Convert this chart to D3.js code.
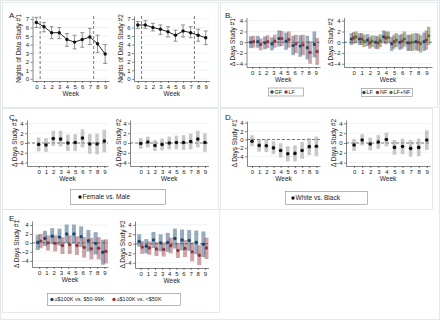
<!DOCTYPE html>
<html>
<head>
<meta charset="utf-8">
<script src="https://cdn.jsdelivr.net/npm/d3@7"></script>
<style>
  body { margin: 0; background: #fff; }
  svg { display: block; }
  text { font-family: 'Liberation Sans', Arial, sans-serif; fill: #222; }
</style>
</head>
<body>
<svg width="440" height="320"></svg>
<script>
// week categories
var weeks = [0, 1, 2, 3, 4, 5, 6, 7, 8, 9]
var yTicksA = [0, 1, 2, 3, 4, 5, 6, 7]
var yTicksD = [-4, -2, 0, 2, 4]

// every entry: [estimate, lower CI, upper CI]
// A. nights of data
var nightsS1 = [[6.6, 6.0, 7.2], [6.1, 5.5, 6.6], [5.4, 4.7, 6.1], [5.4, 4.7, 6.0], [4.6, 3.8, 5.3],
  [4.3, 3.5, 5.1], [4.6, 3.7, 5.4], [4.9, 4.0, 5.9], [4.1, 3.1, 5.1], [2.9, 1.8, 4.0]]
var nightsS2 = [[6.3, 5.9, 6.7], [6.3, 5.9, 6.8], [6.0, 5.6, 6.5], [5.8, 5.2, 6.3], [5.5, 4.9, 6.1],
  [5.1, 4.4, 5.7], [5.6, 4.9, 6.3], [5.4, 4.8, 6.1], [5.1, 4.4, 5.8], [4.8, 4.0, 5.6]]

// B. study #1: GF, LF ; study #2: LF, NF, LF+NF
var gfS1 = [[0.0, -1.1, 1.1], [0.1, -1.0, 1.2], [-0.1, -1.3, 1.1], [-0.3, -1.5, 0.9], [0.7, -0.8, 2.2],
  [0.2, -1.4, 1.8], [-0.6, -2.4, 1.2], [-0.7, -2.7, 1.3], [-1.0, -3.2, 1.2], [-0.4, -2.8, 2.0]]
var lfS1 = [[0.1, -1.0, 1.2], [-0.4, -1.5, 0.7], [0.1, -1.1, 1.3], [0.2, -1.0, 1.4], [0.7, -0.7, 2.1],
  [0.5, -1.0, 2.0], [-0.3, -2.0, 1.4], [-0.5, -2.4, 1.4], [-1.9, -4.0, 0.2], [-1.7, -4.2, 0.8]]
var lfS2 = [[0.6, -0.5, 1.7], [0.6, -0.5, 1.7], [0.4, -0.7, 1.5], [0.0, -1.2, 1.2], [1.0, -0.2, 2.2],
  [-0.3, -1.6, 1.0], [0.0, -1.4, 1.4], [-0.1, -1.6, 1.4], [0.1, -1.5, 1.7], [0.1, -1.6, 1.8]]
var nfS2 = [[0.8, -0.3, 1.9], [0.6, -0.5, 1.7], [-0.1, -1.2, 1.0], [-0.1, -1.3, 1.1], [0.8, -0.4, 2.0],
  [0.1, -1.2, 1.4], [0.2, -1.2, 1.6], [-0.1, -1.6, 1.4], [0.0, -1.6, 1.6], [0.4, -1.4, 2.2]]
var lfnfS2 = [[1.0, -0.1, 2.0], [0.2, -0.9, 1.4], [0.2, -0.9, 1.3], [0.3, -0.9, 1.5], [0.9, -0.2, 2.0],
  [0.4, -0.9, 1.7], [0.6, -0.8, 2.0], [0.0, -1.6, 1.6], [-0.3, -1.9, 1.3], [1.2, -0.5, 2.9]]

// C. female vs male
var sexS1 = [[-0.3, -1.7, 1.1], [-0.4, -1.8, 1.0], [0.9, -0.6, 2.5], [0.8, -0.7, 2.5], [0.0, -1.6, 1.7],
  [0.1, -1.6, 1.8], [1.0, -0.9, 2.8], [-0.2, -2.2, 1.8], [-0.2, -2.3, 1.9], [0.4, -1.9, 2.7]]
var sexS2 = [[-0.1, -1.2, 1.0], [0.2, -0.9, 1.3], [-0.5, -1.6, 0.6], [-0.3, -1.5, 0.9], [0.0, -1.3, 1.3],
  [0.1, -1.3, 1.5], [0.1, -1.4, 1.6], [0.3, -1.3, 1.9], [0.8, -0.9, 2.5], [0.1, -1.8, 2.0]]

// D. white vs black
var raceS1 = [[-0.4, -1.6, 1.0], [-1.4, -2.9, 0.1], [-1.5, -3.0, 0.0], [-2.0, -3.5, -0.4], [-2.6, -4.3, -0.9],
  [-3.4, -5.2, -1.6], [-3.3, -5.2, -1.4], [-2.6, -4.6, -0.6], [-1.7, -3.7, 0.3], [-1.6, -3.9, 0.7]]
var raceS2 = [[-0.4, -1.6, 0.8], [0.6, -0.5, 1.8], [-0.2, -1.5, 1.1], [0.2, -1.2, 1.6], [0.7, -0.7, 2.1],
  [-0.9, -2.4, 0.6], [-0.7, -2.3, 0.9], [-1.1, -2.8, 0.6], [-0.9, -2.7, 0.9], [0.6, -1.4, 2.6]]

// E. income
var midIncS1 = [[0.1, -1.6, 1.8], [1.0, -0.7, 2.7], [1.5, -0.3, 3.3], [1.3, -0.6, 3.2], [2.0, -0.1, 4.1],
  [2.0, -0.1, 4.1], [1.4, -0.9, 3.7], [0.5, -1.9, 2.9], [-0.1, -2.6, 2.4], [-2.1, -4.9, 0.7]]
var lowIncS1 = [[0.4, -1.2, 2.0], [0.0, -1.7, 1.7], [-0.1, -1.9, 1.7], [-0.6, -2.5, 1.3], [-0.4, -2.5, 1.7],
  [-0.6, -2.7, 1.5], [-1.0, -3.3, 1.3], [-1.3, -3.7, 1.1], [-1.2, -3.7, 1.3], [-1.9, -4.6, 0.8]]
var midIncS2 = [[0.5, -0.6, 2.0], [-0.5, -2.0, 1.0], [0.8, -0.9, 2.5], [0.2, -1.6, 2.0], [0.3, -1.7, 2.3],
  [1.1, -1.0, 3.2], [0.8, -1.4, 3.0], [0.7, -1.5, 2.9], [0.3, -2.2, 2.8], [-0.1, -2.8, 2.6]]
var lowIncS2 = [[-0.7, -2.1, 0.6], [-0.9, -2.3, 0.5], [-1.1, -2.6, 0.4], [-1.2, -2.7, 0.3], [-0.4, -2.0, 1.3],
  [-1.4, -3.0, 0.2], [-1.0, -2.8, 0.8], [-1.7, -3.7, 0.3], [-2.4, -4.5, -0.3], [-0.9, -3.2, 1.3]]

var navy = '#1a476f'
var maroon = '#90353b'
var green = '#55752f'

var svg = d3.select('svg')

// outer frame and panel boxes
svg.append('rect').attr('x', 0.5).attr('y', 0.5).attr('width', 439).attr('height', 319)
  .attr('fill', 'none').attr('stroke', '#e4e8ea')
var boxes = [[2, 2, 218, 107], [220, 2, 437, 107], [2, 108, 218, 209], [220, 108, 432, 209], [2, 209, 219, 312]]
svg.selectAll('rect.box').data(boxes).join('rect')
  .attr('x', d => d[0] + 0.5).attr('y', d => d[1] + 0.5)
  .attr('width', d => d[2] - d[0]).attr('height', d => d[3] - d[1])
  .attr('fill', 'none').attr('stroke', '#dfe5e8').attr('stroke-width', 0.8)

var letters = [['A.', 9, 18], ['B.', 225, 18], ['C.', 9, 120], ['D.', 225, 120], ['E.', 9, 221]]
svg.selectAll('text.letter').data(letters).join('text')
  .attr('x', d => d[1]).attr('y', d => d[2])
  .style('font-size', '8px').text(d => d[0])

function subplot (c) {
  var x = d3.scaleLinear().domain(c.xd).range([c.l, c.r])
  var y = d3.scaleLinear().domain(c.yd).range([c.b, c.t])
  var g = svg.append('g')

  // grid
  g.selectAll('line.grid').data(c.yt).join('line')
    .attr('x1', c.l).attr('x2', c.r).attr('y1', y).attr('y2', y)
    .attr('stroke', '#e6eef0').attr('stroke-width', 0.7)

  if (c.zero) {
    g.append('line').attr('x1', c.l).attr('x2', c.r).attr('y1', y(0)).attr('y2', y(0))
      .attr('stroke', '#444').attr('stroke-width', 0.7).attr('stroke-dasharray', '3,2')
  }
  ;(c.vlines || []).forEach(function (v) {
    g.append('line').attr('x1', x(v)).attr('x2', x(v)).attr('y1', c.t).attr('y2', c.b)
      .attr('stroke', '#555').attr('stroke-width', 0.8).attr('stroke-dasharray', '3,2')
  })

  var ya = g.append('g').attr('transform', `translate(${c.l},0)`)
    .call(d3.axisLeft(y).tickValues(c.yt).tickSize(2).tickSizeOuter(0).tickPadding(1.5))
  var xa = g.append('g').attr('transform', `translate(0,${c.b})`)
    .call(d3.axisBottom(x).tickValues(weeks).tickSize(2).tickSizeOuter(0).tickPadding(1.5))
  ;[ya, xa].forEach(function (a) {
    a.selectAll('path, line').attr('stroke', '#333').attr('stroke-width', 0.6)
    a.selectAll('text').style('font-size', '6px').attr('fill', '#222')
    a.attr('font-family', null)
  })

  g.append('text').attr('x', (c.l + c.r) / 2).attr('y', c.b + 15)
    .style('text-anchor', 'middle').style('font-size', '6.5px').text('Week')
  g.append('text').attr('transform', `translate(${c.tx},${(c.t + c.b) / 2}) rotate(-90)`)
    .style('text-anchor', 'middle').style('font-size', '6.5px').text(c.title)

  c.series.forEach(function (s) {
    var sg = g.append('g')
    if (s.caps) {
      sg.selectAll('line.ci').data(s.data).join('line')
        .attr('x1', (d, i) => x(weeks[i])).attr('x2', (d, i) => x(weeks[i]))
        .attr('y1', d => y(d[1])).attr('y2', d => y(d[2]))
        .attr('stroke', '#666').attr('stroke-width', 0.7)
      ;[1, 2].forEach(function (k) {
        sg.selectAll('line.cap' + k).data(s.data).join('line')
          .attr('x1', (d, i) => x(weeks[i]) - 2).attr('x2', (d, i) => x(weeks[i]) + 2)
          .attr('y1', d => y(d[k])).attr('y2', d => y(d[k]))
          .attr('stroke', '#666').attr('stroke-width', 0.7)
      })
      sg.append('path').datum(s.data)
        .attr('d', d3.line().x((d, i) => x(weeks[i])).y(d => y(d[0])))
        .attr('fill', 'none').attr('stroke', '#111').attr('stroke-width', 0.9)
    } else {
      sg.selectAll('rect').data(s.data).join('rect')
        .attr('x', (d, i) => x(weeks[i]) + s.dx - s.w / 2).attr('width', s.w)
        .attr('y', d => y(d[2])).attr('height', d => y(d[1]) - y(d[2]))
        .attr('fill', s.fill).attr('fill-opacity', s.op)
    }
    sg.selectAll('circle').data(s.data).join('circle')
      .attr('cx', (d, i) => x(weeks[i]) + (s.dx || 0)).attr('cy', d => y(d[0]))
      .attr('r', s.r || 1.6).attr('fill', s.color)
  })
}

var greyBar = { fill: '#9a9a9a', op: 0.55, w: 3.6, dx: 0, color: '#111', r: 1.8 }

subplot({ l: 32.5, r: 109, t: 16, b: 81, xd: [-0.5, 9.5], yd: [-0.25, 7.35], yt: yTicksA,
  tx: 21, title: 'Nights of Data Study #1', vlines: [0.5, 7.5],
  series: [{ data: nightsS1, caps: true, color: '#111', r: 1.7 }] })
subplot({ l: 134, r: 209.5, t: 16, b: 81, xd: [-0.5, 9.5], yd: [-0.25, 7.35], yt: yTicksA,
  tx: 122.5, title: 'Nights of Data Study #2', vlines: [0.5, 7.5],
  series: [{ data: nightsS2, caps: true, color: '#111', r: 1.7 }] })

subplot({ l: 246.5, r: 320, t: 17.5, b: 67, xd: [-0.8, 9.6], yd: [-4.6, 4.6], yt: yTicksD,
  tx: 235, title: 'Δ Days Study #1', zero: true,
  series: [{ data: gfS1, dx: -1.4, w: 3.6, fill: navy, op: 0.45, color: navy },
    { data: lfS1, dx: 1.4, w: 3.6, fill: maroon, op: 0.45, color: maroon }] })
subplot({ l: 344, r: 432, t: 17.5, b: 67, xd: [-1.2, 9.7], yd: [-4.6, 4.6], yt: yTicksD,
  tx: 333, title: 'Δ Days Study #2', zero: true,
  series: [{ data: lfS2, dx: -2.3, w: 3.4, fill: navy, op: 0.45, color: navy },
    { data: nfS2, dx: 0, w: 3.4, fill: maroon, op: 0.45, color: maroon },
    { data: lfnfS2, dx: 2.3, w: 3.4, fill: green, op: 0.5, color: green }] })

subplot({ l: 27, r: 108, t: 120, b: 166, xd: [-1.6, 9.5], yd: [-4.7, 4.7], yt: yTicksD,
  tx: 17, title: 'Δ Days Study #1', zero: true,
  series: [Object.assign({ data: sexS1 }, greyBar)] })
subplot({ l: 130, r: 208.5, t: 120, b: 166, xd: [-1.5, 9.5], yd: [-4.7, 4.7], yt: yTicksD,
  tx: 121, title: 'Δ Days Study #2', zero: true,
  series: [Object.assign({ data: sexS2 }, greyBar)] })

subplot({ l: 247, r: 320, t: 121, b: 166, xd: [-0.7, 9.5], yd: [-6.3, 4.4], yt: yTicksD,
  tx: 237, title: 'Δ Days Study #1', zero: true,
  series: [Object.assign({ data: raceS1 }, greyBar)] })
subplot({ l: 346, r: 430, t: 120, b: 166, xd: [-1.0, 9.4], yd: [-4.7, 4.7], yt: yTicksD,
  tx: 336, title: 'Δ Days Study #2', zero: true,
  series: [Object.assign({ data: raceS2 }, greyBar)] })

subplot({ l: 32, r: 108, t: 221, b: 267, xd: [-1.0, 9.5], yd: [-5.4, 4.9], yt: yTicksD,
  tx: 19, title: 'Δ Days Study #1', zero: true,
  series: [{ data: midIncS1, dx: -1.5, w: 4, fill: navy, op: 0.45, color: navy, r: 1.7 },
    { data: lowIncS1, dx: 1.5, w: 4, fill: maroon, op: 0.45, color: maroon, r: 1.7 }] })
subplot({ l: 135, r: 208.5, t: 221, b: 268, xd: [-0.8, 9.5], yd: [-5.1, 4.8], yt: yTicksD,
  tx: 125, title: 'Δ Days Study #2', zero: true,
  series: [{ data: midIncS2, dx: -1.5, w: 4, fill: navy, op: 0.45, color: navy, r: 1.7 },
    { data: lowIncS2, dx: 1.5, w: 4, fill: maroon, op: 0.45, color: maroon, r: 1.7 }] })

// legends
function legend (box, items, fs) {
  var g = svg.append('g')
  g.append('rect').attr('x', box[0] + 0.5).attr('y', box[1] + 0.5)
    .attr('width', box[2] - box[0]).attr('height', box[3] - box[1])
    .attr('fill', '#fff').attr('stroke', '#888').attr('stroke-width', 0.6)
  var cy = (box[1] + box[3]) / 2 + 0.5
  items.forEach(function (it) {
    g.append('circle').attr('cx', it[0]).attr('cy', cy).attr('r', 1.7).attr('fill', it[2])
    g.append('text').attr('x', it[0] + 2.5).attr('y', cy + fs * 0.36)
      .style('font-size', fs + 'px').text(it[1])
  })
}
legend([268, 87.5, 303, 95.5], [[272, 'GF', navy], [286, 'LF', maroon]], 5.5)
legend([361, 88, 412, 96], [[364, 'LF', navy], [377.5, 'NF', maroon], [391, 'LF+NF', green]], 5.5)
legend([70, 189, 165, 204], [[80, 'Female vs. Male', '#111']], 6.5)
legend([285, 191, 367, 204], [[293, 'White vs. Black', '#111']], 6.5)
legend([47, 293, 180, 305], [[52, '≥$100K vs. $50-99K', navy], [114, '≥$100K vs. <$50K', maroon]], 5.5)
</script>
</body>
</html>
